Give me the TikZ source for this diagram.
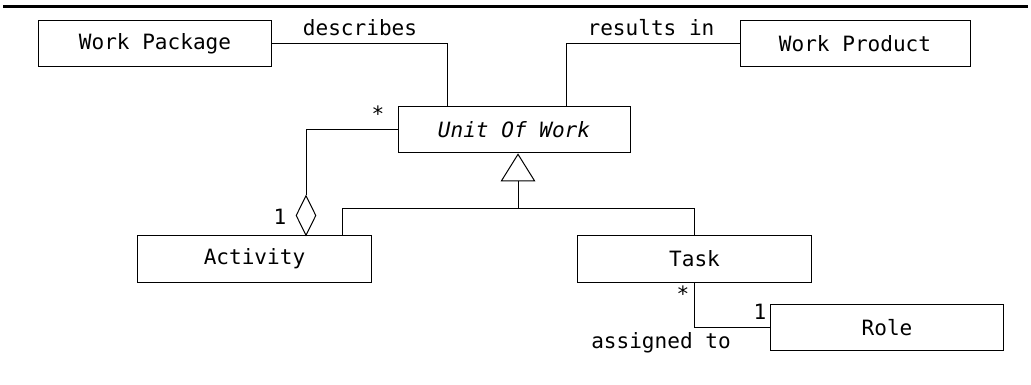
\documentclass[tikz,border=0pt]{standalone}
\usepackage{fontspec}
\setmainfont{DejaVu Sans Mono}
\usetikzlibrary{positioning,arrows.meta,shapes.geometric,calc}

\begin{document}
\begin{tikzpicture}[x=0.75pt, y=-0.75pt, line width=0.75pt,
  umlbox/.style={draw, minimum width=175pt, minimum height=35pt, inner sep=0pt, font=\fontsize{15.8}{19}\selectfont},
  lbl/.style={inner sep=0pt, font=\fontsize{15.8}{19}\selectfont}]
\useasboundingbox (0,0) rectangle (1031,385);
\draw[line width=2.4pt] (3,6.5) -- (1028,6.5);
\node[umlbox] (wpkg) at (155,43.5) {Work Package};
\node[umlbox, minimum width=172.5pt] (wprod) at (855,43.5) {Work Product};
\node[umlbox, minimum width=174pt] (unit) at (514,129.5) {\itshape Unit Of Work};
\node[umlbox] (act) at (254.5,259) {Activity};
\node[umlbox] (task) at (694.5,259) {Task};
\node[umlbox] (role) at (887,327.5) {Role};
\node[draw, diamond, inner sep=0pt, minimum width=15pt, minimum height=30pt] (agg) at (306,215.5) {};
\coordinate (gen) at (518,208);
% associations
\draw (wpkg.east) -| ($(unit.north west)+(50,0)$);
\draw (wprod.west) -| ($(unit.north east)+(-64,0)$);
\draw (unit.west) -| (agg.north);
\draw (task.south) |- (role.west);
% generalization
\draw[-{Triangle[open, length=21pt, width=26pt]}] (gen) -- (gen |- unit.south);
\draw (gen) -| ($(act.north east)+(-29,0)$);
\draw (gen) -| (task.north);
% labels
\node[lbl] (ldesc) at (360,28) {describes};
\node[lbl] (lres) at (651,28) {results in};
\node[lbl] (mu) at (378,114) {*};
\node[lbl] (ma) at (280,217) {1};
\node[lbl] (mt) at (683,294) {*};
\node[lbl] (mr) at (760,312) {1};
\node[lbl] (lasg) at (661,343) {assigned to};
\end{tikzpicture}
\end{document}
